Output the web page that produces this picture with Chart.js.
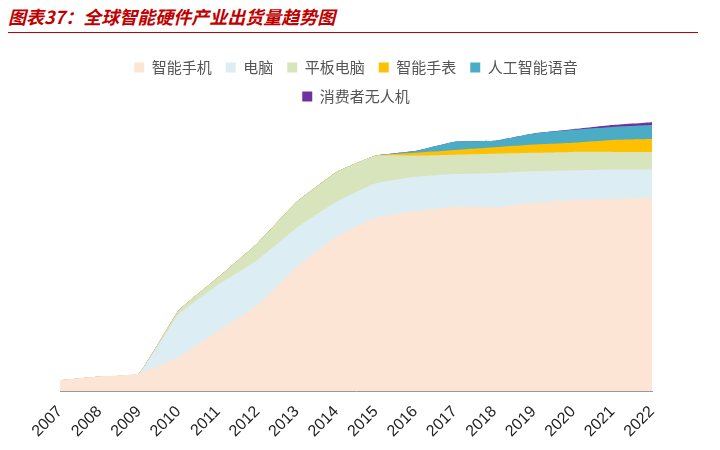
<!DOCTYPE html>
<html><head><meta charset="utf-8">
<script src="https://cdn.jsdelivr.net/npm/chart.js@4"></script>
<style>
body{margin:0;background:#fff;font-family:"Noto Sans CJK SC",sans-serif;}
#title{position:absolute;left:8px;top:3px;color:#c00000;font-size:18px;font-weight:bold;font-style:italic;}
#rule{position:absolute;left:8px;top:32px;width:690px;height:1px;background:#c00000;}
#wrap{position:absolute;left:0;top:0;width:720px;height:450px;}
</style></head><body>
<div id="title">图表37：全球智能硬件产业出货量趋势图</div>
<div id="rule"></div>
<div id="wrap"><canvas id="c"></canvas></div>
<script>
const years = ['2007','2008','2009','2010','2011','2012','2013','2014','2015','2016','2017','2018','2019','2020','2021','2022'];
const phone   = [12,16,19,37,65,93,135,167,188,195,200,199,204,207,208,210];
const pc      = [0,0,0,46,50,49,42,38,37,37,35,37,34,32,32,30];
const tablet  = [0,0,0,4,8,18,28,32,30,23,21,21,20,20,19,19];
const watch   = [0,0,0,0,0,0,0,0,0,3,5,7,9,10,13,14];
const speaker = [0,0,0,0,0,0,0,0,0,2,9,7,12,14,14,15];
const drone   = [0,0,0,0,0,0,0,0,0,0,0,0,0,0.5,2,3];

const mk = (label, data, color) => ({
  label, data, backgroundColor: color, borderColor: color, borderWidth: 0,
  fill: true, pointRadius: 0, tension: 0.1
});

new Chart(document.getElementById('c'), {
  type: 'line',
  data: {
    labels: years,
    datasets: [
      mk('智能手机', phone, '#fde5d6'),
      mk('电脑', pc, '#dcedf4'),
      mk('平板电脑', tablet, '#d8e4bc'),
      mk('智能手表', watch, '#ffc000'),
      mk('人工智能语音', speaker, '#4bacc6'),
      mk('消费者无人机', drone, '#7030a0')
    ]
  },
  options: {
    responsive: true, maintainAspectRatio: false, animation: false,
    layout: { padding: { top: 46, left: 60, right: 68, bottom: 6 } },
    plugins: {
      legend: { position: 'top', labels: { boxWidth: 10, boxHeight: 10, color: '#555',
        font: { size: 15, family: '"Noto Sans CJK SC"' }, padding: 14 } },
      tooltip: { enabled: false }
    },
    scales: {
      x: { grid: { display: false }, border: { color: '#999' }, offset: false,
        ticks: { maxRotation: 45, minRotation: 45, color: '#222', font: { size: 16, family: 'Arial' } } },
      y: { stacked: true, display: false, min: 0, max: 300 }
    }
  }
});
</script></body></html>
